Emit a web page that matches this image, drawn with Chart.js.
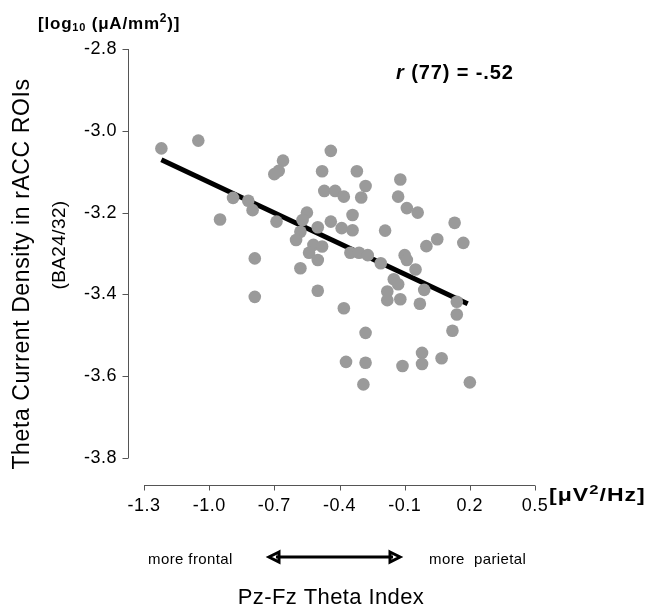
<!DOCTYPE html>
<html>
<head>
<meta charset="utf-8">
<script src="https://cdn.jsdelivr.net/npm/chart.js@4.4.1/dist/chart.umd.min.js"></script>
<style>
    body { margin: 0; background: #fff; }
    #thetaChart { display: block; }
</style>
</head>
<body>
<canvas id="thetaChart" width="650" height="607"></canvas>
<script>
// Pz-Fz theta index (x) vs rACC theta current density (y)
var xValues = [-1.22, -1.05, -0.44, -0.66, -0.68, -0.70, -0.48, -0.32, -0.28, -0.12,
    -0.47, -0.42, -0.38, -0.30, -0.13, -0.89, -0.82, -0.80, -0.09, -0.04,
    -0.95, -0.69, -0.55, -0.57, -0.50, -0.44, -0.39, -0.34, -0.34, -0.19,
    0.13, -0.58, -0.60, 0.05, 0.00, 0.17, -0.52, -0.48, -0.54, -0.50,
    -0.35, -0.31, -0.27, -0.21, -0.10, -0.09, -0.79, -0.58, -0.05, -0.15,
    -0.13, -0.50, -0.18, -0.01, -0.79, -0.18, -0.12, 0.14, -0.03, -0.38,
    0.14, 0.12, -0.28, -0.37, -0.28, -0.11, -0.02, -0.02, 0.07, -0.29, 0.20];
var yValues = [-3.043, -3.024, -3.049, -3.073, -3.098, -3.106, -3.099, -3.099, -3.135, -3.119,
    -3.147, -3.147, -3.161, -3.163, -3.161, -3.164, -3.171, -3.194, -3.189, -3.200,
    -3.217, -3.222, -3.200, -3.218, -3.236, -3.222, -3.238, -3.206, -3.243, -3.244,
    -3.225, -3.247, -3.267, -3.265, -3.282, -3.274, -3.279, -3.283, -3.298, -3.316,
    -3.298, -3.298, -3.304, -3.324, -3.304, -3.316, -3.312, -3.336, -3.339, -3.363,
    -3.375, -3.391, -3.393, -3.389, -3.406, -3.414, -3.412, -3.418, -3.423, -3.434,
    -3.449, -3.489, -3.494, -3.565, -3.567, -3.575, -3.543, -3.570, -3.556, -3.620, -3.615];

// regression line end points
var fitX = [-1.22, 0.19];
var fitY = [-3.071, -3.423];

var xTickValues = [-1.3, -1.0, -0.7, -0.4, -0.1, 0.2, 0.5];
var yTickValues = [-2.8, -3.0, -3.2, -3.4, -3.6, -3.8];

var fontName = "'Liberation Sans', Arial, Helvetica, sans-serif";

function toPoints(xs, ys) {
    var pts = [];
    for (var i = 0; i < xs.length; i++) {
        pts.push({ x: xs[i], y: ys[i] });
    }
    return pts;
}

function setTicks(values) {
    return function (scale) {
        scale.ticks = values.map(function (v) { return { value: v }; });
    };
}

// draws text piece by piece so sub/superscripts can be placed
// sx widens the glyphs a bit (the printed figure is stretched sideways)
function drawPieces(ctx, x, y, pieces, spacing, sx) {
    ctx.save();
    ctx.translate(x, y);
    ctx.scale(sx || 1, 1);
    ctx.letterSpacing = spacing + 'px';
    var cx = 0;
    pieces.forEach(function (p) {
        ctx.font = p.font;
        ctx.fillText(p.text, cx, p.dy || 0);
        cx += ctx.measureText(p.text).width;
    });
    ctx.restore();
}

var figurePlugin = {
    id: 'figure',
    beforeDraw: function (chart) {
        chart.ctx.letterSpacing = '0.5px';
    },
    afterDraw: function (chart) {
        var ctx = chart.ctx;
        var xs = chart.scales.x;
        var ys = chart.scales.y;
        ctx.save();
        ctx.letterSpacing = '0px';
        ctx.strokeStyle = '#555';
        ctx.fillStyle = '#000';
        ctx.lineWidth = 1;

        // y axis, set off to the left of the data
        var axX = 128.5;
        ctx.beginPath();
        ctx.moveTo(axX, ys.getPixelForValue(-2.8));
        ctx.lineTo(axX, ys.getPixelForValue(-3.8));
        yTickValues.forEach(function (v) {
            var py = Math.round(ys.getPixelForValue(v)) + 0.5;
            ctx.moveTo(axX - 6, py);
            ctx.lineTo(axX, py);
        });
        ctx.stroke();

        // x axis, set off below the data
        var axY = 485.5;
        ctx.beginPath();
        ctx.moveTo(xs.getPixelForValue(-1.3), axY);
        ctx.lineTo(xs.getPixelForValue(0.5), axY);
        xTickValues.forEach(function (v) {
            var px = Math.round(xs.getPixelForValue(v)) + 0.5;
            ctx.moveTo(px, axY);
            ctx.lineTo(px, axY + 5);
        });
        ctx.stroke();

        ctx.textAlign = 'left';
        ctx.textBaseline = 'alphabetic';

        // unit labels
        var b17 = 'bold 17px ' + fontName;
        drawPieces(ctx, 38, 29, [
            { text: '[log', font: b17 },
            { text: '10', font: 'bold 11px ' + fontName, dy: 2 },
            { text: ' (\u03bcA/mm', font: b17 },
            { text: '2', font: 'bold 12px ' + fontName, dy: -7 },
            { text: ')]', font: b17 }
        ], 0.8);

        var b18 = 'bold 18px ' + fontName;
        drawPieces(ctx, 549, 501, [
            { text: '[\u03bcV', font: b18 },
            { text: '2', font: 'bold 13px ' + fontName, dy: -7 },
            { text: '/Hz]', font: b18 }
        ], 0.8, 1.28);

        // correlation
        drawPieces(ctx, 396, 79, [
            { text: 'r', font: 'italic bold 20px ' + fontName },
            { text: ' (77) = -.52', font: 'bold 20px ' + fontName }
        ], 0.9);

        // direction hints under the x axis
        ctx.font = '15px ' + fontName;
        ctx.letterSpacing = '0.4px';
        ctx.fillText('more frontal', 148, 564);
        ctx.fillText('more  parietal', 429, 564);
        ctx.letterSpacing = '0px';

        // double arrow
        ctx.strokeStyle = '#000';
        ctx.lineWidth = 3;
        ctx.beginPath();
        ctx.moveTo(276, 557);
        ctx.lineTo(393, 557);
        ctx.stroke();
        ctx.lineJoin = 'miter';
        ctx.beginPath();
        ctx.moveTo(279, 552);
        ctx.lineTo(269, 557);
        ctx.lineTo(279, 562);
        ctx.closePath();
        ctx.moveTo(390, 552);
        ctx.lineTo(400, 557);
        ctx.lineTo(390, 562);
        ctx.closePath();
        ctx.stroke();

        // axis titles
        ctx.font = '22px ' + fontName;
        ctx.letterSpacing = '0.4px';
        ctx.textAlign = 'center';
        ctx.fillText('Pz-Fz Theta Index', 331, 604);

        ctx.save();
        ctx.translate(29, 274);
        ctx.rotate(-Math.PI / 2);
        ctx.font = '23px ' + fontName;
        ctx.letterSpacing = '0.6px';
        ctx.fillText('Theta Current Density in rACC ROIs', 0, 0);
        ctx.restore();

        ctx.save();
        ctx.translate(65, 245);
        ctx.rotate(-Math.PI / 2);
        ctx.font = '19px ' + fontName;
        ctx.fillText('(BA24/32)', 0, 0);
        ctx.restore();

        ctx.restore();
    }
};

new Chart(document.getElementById('thetaChart'), {
    type: 'scatter',
    data: {
        datasets: [
            {
                label: 'Subjects',
                data: toPoints(xValues, yValues),
                backgroundColor: '#9a9a9a',
                borderWidth: 0,
                pointRadius: 6.3,
                order: 1
            },
            {
                type: 'line',
                label: 'Fit',
                data: toPoints(fitX, fitY),
                borderColor: '#000',
                borderWidth: 5,
                pointRadius: 0,
                fill: false,
                order: 2
            }
        ]
    },
    options: {
        responsive: false,
        animation: false,
        layout: { padding: { left: 0, top: 49, right: 115, bottom: 0 } },
        plugins: {
            legend: { display: false },
            tooltip: { enabled: false }
        },
        scales: {
            x: {
                type: 'linear',
                min: -1.3,
                max: 0.5,
                afterBuildTicks: setTicks(xTickValues),
                afterFit: function (scale) { scale.height = 149; },
                grid: { display: false, drawTicks: false },
                border: { display: false },
                ticks: {
                    padding: 37,
                    color: '#000',
                    maxRotation: 0,
                    font: { family: fontName, size: 18 },
                    callback: function (v) { return v.toFixed(1); }
                }
            },
            y: {
                type: 'linear',
                min: -3.8,
                max: -2.8,
                afterBuildTicks: setTicks(yTickValues),
                afterFit: function (scale) { scale.width = 144; },
                grid: { display: false, drawTicks: false },
                border: { display: false },
                ticks: {
                    padding: 27,
                    color: '#000',
                    font: { family: fontName, size: 18 },
                    callback: function (v) { return v.toFixed(1); }
                }
            }
        }
    },
    plugins: [figurePlugin]
});
</script>
</body>
</html>
